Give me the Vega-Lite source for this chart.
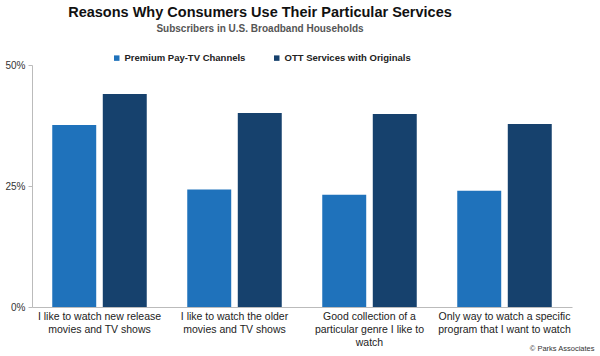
{
  "$schema": "https://vega.github.io/schema/vega-lite/v6.json",
  "width": 540,
  "height": 242,
  "autosize": {"type": "none"},
  "padding": {"left": 32, "top": 65, "right": 28, "bottom": 49},
  "background": "white",
  "title": {
    "text": "Reasons Why Consumers Use Their Particular Services",
    "subtitle": "Subscribers in U.S. Broadband Households",
    "anchor": "middle",
    "frame": "group",
    "dx": -42,
    "offset": 18,
    "font": "Liberation Sans",
    "fontSize": 14.5,
    "fontWeight": "bold",
    "color": "#111111",
    "subtitleFont": "Liberation Sans",
    "subtitleFontSize": 10,
    "subtitleFontWeight": "bold",
    "subtitleColor": "#555555",
    "subtitlePadding": 4
  },
  "data": {
    "values": [
      {"reason": "I like to watch  new release|movies and TV shows", "series": "Premium Pay-TV Channels", "value": 0.376},
      {"reason": "I like to watch  new release|movies and TV shows", "series": "OTT Services with Originals", "value": 0.44},
      {"reason": "I like to watch the older|movies and TV shows", "series": "Premium Pay-TV Channels", "value": 0.243},
      {"reason": "I like to watch the older|movies and TV shows", "series": "OTT Services with Originals", "value": 0.401},
      {"reason": "Good collection of a|particular genre I like to|watch", "series": "Premium Pay-TV Channels", "value": 0.232},
      {"reason": "Good collection of a|particular genre I like to|watch", "series": "OTT Services with Originals", "value": 0.399},
      {"reason": "Only way to watch a specific|program that I want to watch", "series": "Premium Pay-TV Channels", "value": 0.24},
      {"reason": "Only way to watch a specific|program that I want to watch", "series": "OTT Services with Originals", "value": 0.378}
    ]
  },
  "mark": {"type": "bar"},
  "encoding": {
    "x": {
      "field": "reason",
      "type": "nominal",
      "sort": null,
      "scale": {"paddingInner": 0.3, "paddingOuter": 0.15},
      "axis": {
        "title": "© Parks Associates",
        "titleAnchor": "end",
        "titleAlign": "right",
        "titleX": 562,
        "titleY": 45,
        "titleBaseline": "bottom",
        "titleFont": "Liberation Sans",
        "titleFontSize": 7.5,
        "titleFontWeight": "normal",
        "titleColor": "#333333",
        "labelExpr": "split(datum.label, '|')",
        "labelAngle": 0,
        "labelFont": "Liberation Sans",
        "labelFontSize": 10.5,
        "labelColor": "#222222",
        "labelLineHeight": 13,
        "labelPadding": 4,
        "ticks": false,
        "domainColor": "#bbbbbb",
        "labelLimit": 200
      }
    },
    "xOffset": {
      "field": "series",
      "type": "nominal",
      "sort": ["Premium Pay-TV Channels", "OTT Services with Originals"],
      "scale": {"paddingInner": 0.13}
    },
    "y": {
      "field": "value",
      "type": "quantitative",
      "scale": {"domain": [0, 0.5]},
      "axis": {
        "title": null,
        "values": [0, 0.25, 0.5],
        "format": ".0%",
        "grid": false,
        "labelFont": "Liberation Sans",
        "labelFontSize": 10,
        "labelColor": "#333333",
        "tickSize": 4,
        "tickColor": "#bbbbbb",
        "domainColor": "#bbbbbb",
        "labelPadding": 3
      }
    },
    "color": {
      "field": "series",
      "type": "nominal",
      "sort": ["Premium Pay-TV Channels", "OTT Services with Originals"],
      "scale": {"range": ["#1f72bb", "#16416d"]},
      "legend": {
        "title": null,
        "orient": "none",
        "direction": "horizontal",
        "legendX": 80,
        "legendY": -12,
        "symbolType": "square",
        "symbolSize": 30,
        "labelFont": "Liberation Sans",
        "labelFontSize": 9.5,
        "labelFontWeight": "bold",
        "labelColor": "#222222",
        "columnPadding": 26,
        "labelOffset": 3
      }
    }
  },
  "config": {"view": {"stroke": null}}
}
